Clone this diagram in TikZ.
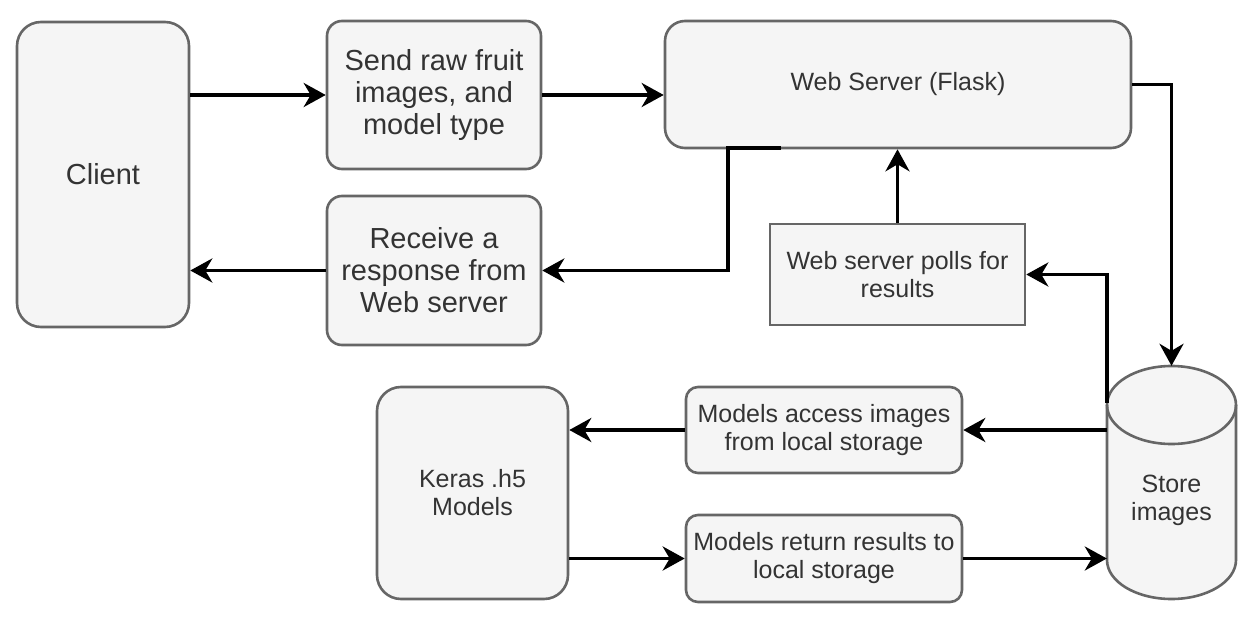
\documentclass[tikz,border=0pt]{standalone}
\usepackage{fontspec}
\setmainfont{Liberation Sans}
\usetikzlibrary{arrows.meta,calc}
\definecolor{boxfill}{HTML}{F5F5F5}
\definecolor{boxline}{HTML}{666666}
\definecolor{boxtext}{HTML}{333333}
\begin{document}
\begin{tikzpicture}[x=1pt,y=-1pt,
  box/.style={draw=boxline,fill=boxfill,line width=2.6pt,inner sep=0pt,align=center,text=boxtext},
  bigtext/.style={font=\fontsize{29}{32}\selectfont},
  smalltext/.style={font=\fontsize{25}{28}\selectfont},
  conn/.style={line width=3.6pt,-{Stealth[length=22pt,width=24pt,inset=7pt]}},
  plain/.style={line width=3.6pt}]
\useasboundingbox (0,0) rectangle (1254,634);
\fill[white] (0,0) rectangle (1254,634);
% nodes
\node[box,bigtext,rounded corners=24pt,minimum width=172pt,minimum height=305pt] (cli) at (103,174.5) {Client};
\node[box,bigtext,rounded corners=15pt,minimum width=214pt,minimum height=148pt] (snd) at (434,95) {Send raw fruit\\images, and\\model type};
\node[box,smalltext,rounded corners=20pt,minimum width=466pt,minimum height=127pt] (web) at (898,84.5) {Web Server (Flask)};
\node[box,bigtext,rounded corners=15pt,minimum width=214pt,minimum height=149pt] (rec) at (434,270.5) {Receive a\\response from\\Web server};
\node[box,smalltext,minimum width=255pt,minimum height=101pt] (poll) at (897.5,274.5) {Web server polls for\\results};
\node[box,smalltext,rounded corners=24pt,minimum width=191pt,minimum height=212pt] (ker) at (472.5,493) {Keras .h5\\Models};
\node[box,smalltext,rounded corners=12pt,minimum width=276pt,minimum height=86pt] (acc) at (824,430) {Models access images\\from local storage};
\node[box,smalltext,rounded corners=12pt,minimum width=276pt,minimum height=87pt] (ret) at (824,558.5) {Models return results to\\local storage};
% cylinder
\node[inner sep=0pt,minimum width=129pt,minimum height=233pt] (cyl) at (1171.5,482.5) {};
\fill[boxfill] (1107,405) -- (1107,560) arc[start angle=180,end angle=360,x radius=64.5pt,y radius=39pt] -- (1236,405) arc[start angle=0,end angle=180,x radius=64.5pt,y radius=39pt] -- cycle;
\draw[boxline,line width=2.6pt] (1107,405) -- (1107,560) arc[start angle=180,end angle=360,x radius=64.5pt,y radius=39pt] -- (1236,405);
\draw[boxline,line width=2.6pt] (1171.5,405) ellipse[x radius=64.5pt,y radius=39pt];
\node[text=boxtext,smalltext,align=center] (cyltext) at (1171.5,500) {Store\\images};
\coordinate (wsa) at (781,148);
\coordinate (cylp) at (1107,403);
% connectors
\draw[conn] (cli.east |- snd.west) -- (snd.west);
\draw[conn] (snd.east) -- (snd.east -| web.west);
\draw[conn] (wsa) -- (728,148) |- (rec.east);
\draw[conn] (rec.west) -- (rec.west -| cli.east);
\draw[conn] (poll.north) -- (poll.north |- web.south);
\draw[conn] (web.east) -| (cyl.north);
\draw[conn] (cylp) |- (poll.east);
\draw[conn] (cyl.west |- acc.east) -- (acc.east);
\draw[conn] (acc.west) -- (acc.west -| ker.east);
\draw[conn] (ker.east |- ret.west) -- (ret.west);
\draw[conn] (ret.east) -- (ret.east -| cyl.west);
\end{tikzpicture}
\end{document}
